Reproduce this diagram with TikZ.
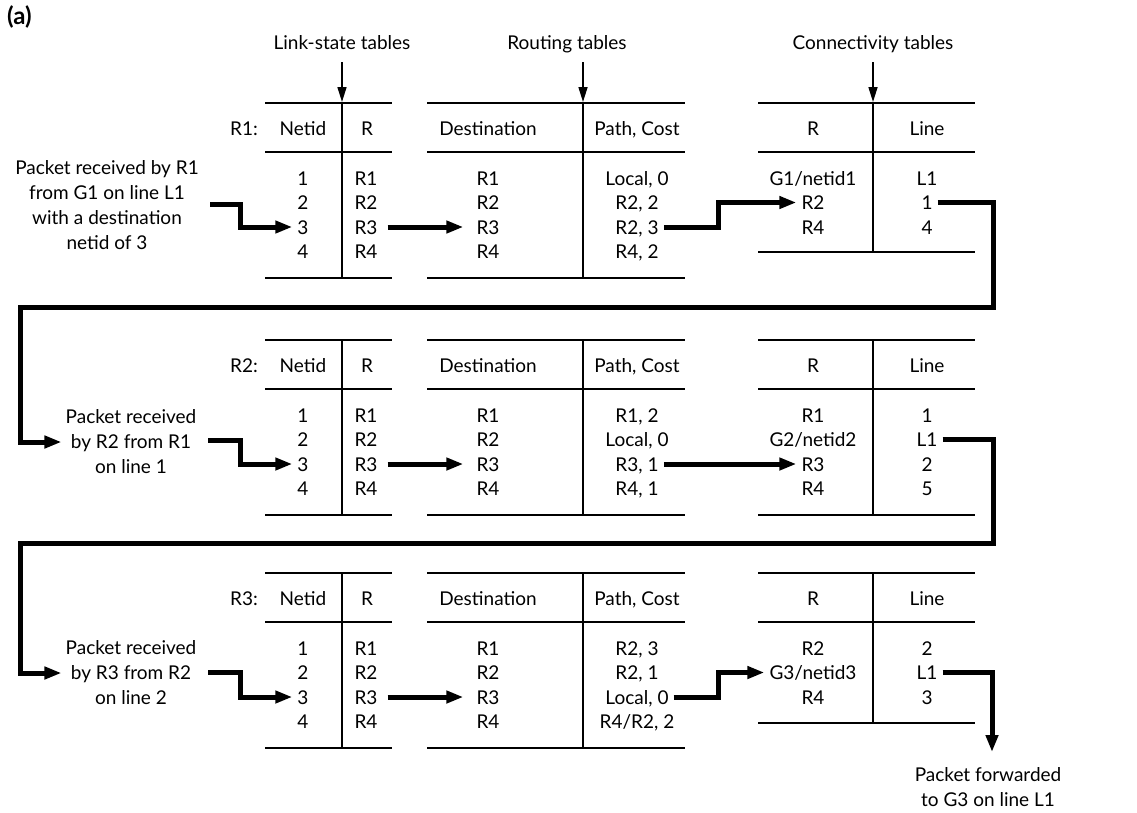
\documentclass[tikz,border=0pt]{standalone}
\usepackage{fontspec}
\setmainfont{Lato}
\usetikzlibrary{arrows.meta}
\tikzset{
  every node/.style={font=\fontsize{19}{25}\selectfont},
  cell/.style={inner xsep=5pt, inner ysep=0pt, text height=14pt, text depth=0pt, anchor=center},
  lbl/.style={align=center, inner xsep=4pt, inner ysep=0pt},
  rule/.style={line width=2.3pt},
  conn/.style={line width=5pt, line join=miter, -{Triangle[length=17pt,width=12pt]}},
  hdarrow/.style={line width=1.6pt, -{Triangle[length=15pt,width=9pt]}}
}
\newcommand\tabrow[7]{%
  \draw[rule] (265,#2) -- (392,#2) (265,#2+49) -- (392,#2+49) (265,#2+175) -- (392,#2+175) (342,#2) -- (342,#2+175);
  \draw[rule] (427,#2) -- (685,#2) (427,#2+49) -- (685,#2+49) (427,#2+175) -- (685,#2+175) (583,#2) -- (583,#2+175);
  \draw[rule] (758,#2) -- (975,#2) (758,#2+49) -- (975,#2+49) (758,#2+#7) -- (975,#2+#7) (873,#2) -- (873,#2+#7);
  \node[cell,anchor=east] (#1lab) at (263,#2+25) {#3};
  \node[cell] (#1hn) at (303,#2+25) {Netid};
  \node[cell] (#1hr) at (367,#2+25) {R};
  \node[cell] (#1hd) at (488,#2+25) {Destination};
  \node[cell] (#1hp) at (637,#2+25) {Path, Cost};
  \node[cell] (#1hc) at (813,#2+25) {R};
  \node[cell] (#1hl) at (927,#2+25) {Line};
  \foreach \i in {1,...,4}{
    \node[cell] (#1n\i) at (303,{#2+75+24.5*(\i-1)}) {\i};
    \node[cell] (#1r\i) at (366,{#2+75+24.5*(\i-1)}) {R\i};
    \node[cell] (#1d\i) at (488,{#2+75+24.5*(\i-1)}) {R\i};
  }
  \foreach \tx [count=\i] in {#4} \node[cell] (#1p\i) at (637,{#2+75+24.5*(\i-1)}) {\tx};
  \foreach \tx [count=\i] in {#5} \node[cell] (#1c\i) at (813,{#2+75+24.5*(\i-1)}) {\tx};
  \foreach \tx [count=\i] in {#6} \node[cell] (#1l\i) at (927,{#2+75+24.5*(\i-1)}) {\tx};
}
\begin{document}
\begin{tikzpicture}[x=1pt,y=-1pt]
\useasboundingbox (0,0) rectangle (1137,812);
\node[font=\bfseries\fontsize{24}{28}\selectfont, anchor=west, inner sep=0pt] (tag) at (7,17) {(a)};

% header labels
\node[cell] (hls) at (342,42) {Link-state tables};
\node[cell] (hrt) at (567,42) {Routing tables};
\node[cell] (hct) at (873,42) {Connectivity tables};
\coordinate (tls) at (342,102);
\coordinate (trt) at (583,102);
\coordinate (tct) at (873,102);
\draw[hdarrow] (tls |- hls.south) ++(0,13) -- (tls);
\draw[hdarrow] (trt |- hrt.south) ++(0,13) -- (trt);
\draw[hdarrow] (tct |- hct.south) ++(0,13) -- (tct);

% tables
\tabrow{a}{103}{R1:}{{Local, 0},{R2, 2},{R2, 3},{R4, 2}}{G1/netid1,R2,R4}{L1,1,4}{149}
\tabrow{b}{340}{R2:}{{R1, 2},{Local, 0},{R3, 1},{R4, 1}}{R1,G2/netid2,R3,R4}{1,L1,2,5}{175}
\tabrow{c}{573}{R3:}{{R2, 3},{R2, 1},{Local, 0},{R4/R2, 2}}{R2,G3/netid3,R4}{2,L1,3}{150}

% side labels
\node[lbl] (ina) at (107,205.5) {Packet received by R1\\from G1 on line L1\\with a destination\\netid of 3};
\node[lbl] (inb) at (131,442) {Packet received\\by R2 from R1\\on line 1};
\node[lbl] (inc) at (131,673) {Packet received\\by R3 from R2\\on line 2};
\node[lbl] (out) at (988,787.5) {Packet forwarded\\to G3 on line L1};

% connectors
\coordinate (sa) at (210,204);
\coordinate (sb) at (208,440);
\coordinate (sc) at (208,672.5);
\coordinate (lx) at (20,0);
\coordinate (ka) at (993,307);
\coordinate (kb) at (993,543);
\coordinate (ko) at (992,752);

\draw[conn] (sa) -- ++(30,0) |- (an3.west);
\draw[conn] (sb) -- ++(32,0) |- (bn3.west);
\draw[conn] (sc) -- ++(32,0) |- (cn3.west);

\draw[conn, shorten <=5pt, shorten >=8pt] (ar3.east) -- (ad3.west);
\draw[conn, shorten <=5pt, shorten >=8pt] (br3.east) -- (bd3.west);
\draw[conn, shorten <=5pt, shorten >=8pt] (cr3.east) -- (cd3.west);

\draw[conn] (ap3.east) -- ++(55,0) |- (ac2.west);
\draw[conn] (bp3.east) -- (bc3.west);
\draw[conn] (cp3.east) -- ++(45,0) |- (cc2.west);

\draw[conn] (al2.east) -| (ka) -- (ka -| lx) |- (inb.west);
\draw[conn] (bl2.east) -| (kb) -- (kb -| lx) |- (inc.west);
\draw[conn] (cl2.east) -| (ko);
\end{tikzpicture}
\end{document}
